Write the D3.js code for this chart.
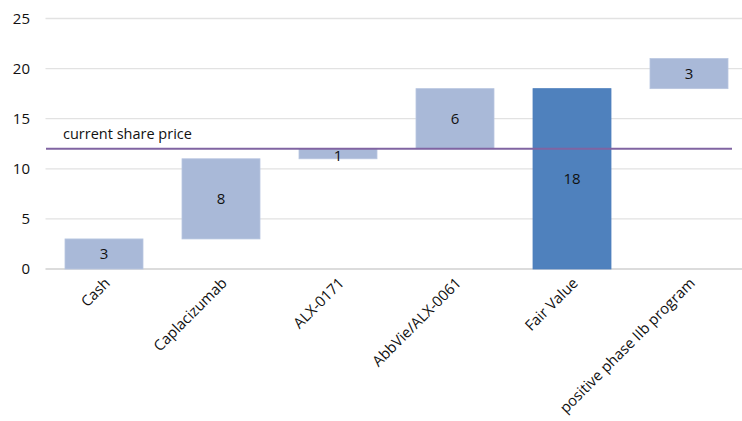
<!DOCTYPE html>
<html>
<head>
<meta charset="utf-8">
<script src="https://cdn.jsdelivr.net/npm/d3@7"></script>
<style>
  body { margin: 0; background: #fff; }
  text { font-family: "Open Sans", "Noto Sans", sans-serif; fill: #111; }
</style>
</head>
<body>
<svg id="chart" width="742" height="421"></svg>
<script>
const categories = ['Cash', 'Caplacizumab', 'ALX-0171', 'AbbVie/ALX-0061', 'Fair Value', 'positive phase IIb program']
const barBase = [0, 3, 11, 12, 0, 18]
const barValue = [3, 8, 1, 6, 18, 3]
const isTotal = [false, false, false, false, true, false]
const yTicks = [0, 5, 10, 15, 20, 25]
const sharePrice = 12
const sharePriceLabel = 'current share price'

const svg = d3.select('#chart')

const x = d3.scaleBand()
  .domain(categories)
  .range([45.5, 747.5])
  .paddingInner(1 / 3)
  .paddingOuter(1 / 6)

const y = d3.scaleLinear()
  .domain([0, 25])
  .range([269, 18.5])

// gridlines
svg.append('g')
  .selectAll('line')
  .data(yTicks)
  .join('line')
  .attr('x1', 45.5)
  .attr('x2', 747.5)
  .attr('y1', d => y(d))
  .attr('y2', d => y(d))
  .attr('stroke', d => d === 0 ? '#d0d0d0' : '#e2e2e2')
  .attr('stroke-width', 1.3)

// y axis labels
svg.append('g')
  .selectAll('text')
  .data(yTicks)
  .join('text')
  .attr('x', 30)
  .attr('y', d => y(d))
  .attr('dy', '0.36em')
  .attr('text-anchor', 'end')
  .attr('font-size', 15)
  .text(d => d)

// bars
svg.append('g')
  .selectAll('rect')
  .data(categories)
  .join('rect')
  .attr('x', d => x(d))
  .attr('width', x.bandwidth())
  .attr('y', (d, i) => y(barBase[i] + barValue[i]))
  .attr('height', (d, i) => y(barBase[i]) - y(barBase[i] + barValue[i]))
  .attr('fill', (d, i) => isTotal[i] ? '#4f81bd' : '#a9b9d8')
  .attr('stroke', (d, i) => isTotal[i] ? '#4f81bd' : '#b8c6e0')
  .attr('stroke-width', 0.8)

// share price line
svg.append('line')
  .attr('x1', 46)
  .attr('x2', 732)
  .attr('y1', y(sharePrice))
  .attr('y2', y(sharePrice))
  .attr('stroke', '#8064a2')
  .attr('stroke-width', 2)

svg.append('text')
  .attr('x', 63)
  .attr('y', y(sharePrice) - 10)
  .attr('font-size', 14.5)
  .text(sharePriceLabel)

// data labels
svg.append('g')
  .selectAll('text')
  .data(categories)
  .join('text')
  .attr('x', d => x(d) + x.bandwidth() / 2)
  .attr('y', (d, i) => y(barBase[i] + barValue[i] / 2))
  .attr('dy', (d, i) => barValue[i] < 2 ? '0.5em' : '0.36em')
  .attr('text-anchor', 'middle')
  .attr('font-size', 15)
  .text((d, i) => barValue[i])

// x labels rotated
svg.append('g')
  .selectAll('text')
  .data(categories)
  .join('text')
  .attr('text-anchor', 'end')
  .attr('font-size', 14.8)
  .attr('transform', d => `translate(${x(d) + x.bandwidth() / 2 + 7}, 284) rotate(-45)`)
  .text(d => d)
</script>
</body>
</html>
